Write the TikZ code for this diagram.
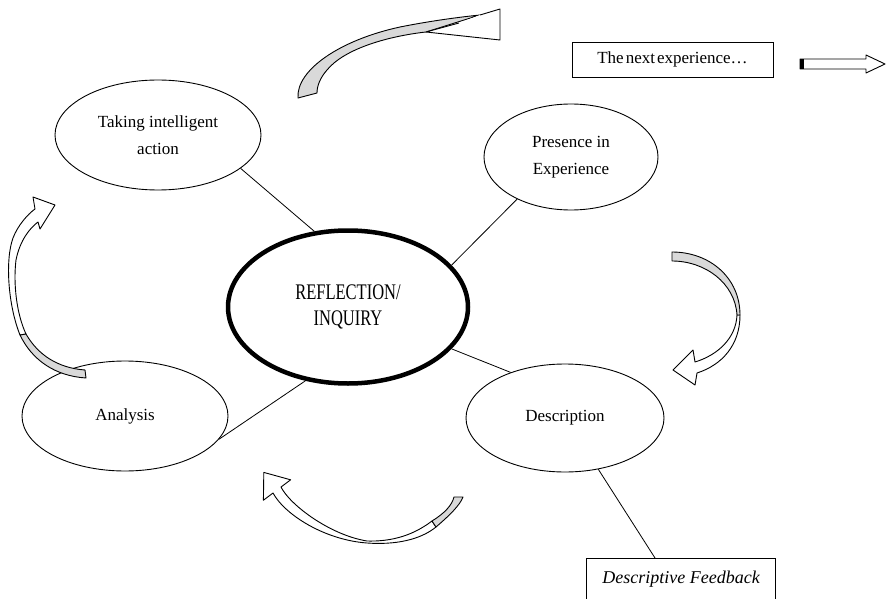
\documentclass[tikz,border=0pt]{standalone}
\usepackage{fontspec}
\setmainfont{Liberation Serif}
\usetikzlibrary{shapes.geometric,calc}
\definecolor{arrgray}{gray}{0.85}
\begin{document}
\begin{tikzpicture}[x=1pt,y=-1pt,
  ell/.style={draw, ellipse, line width=0.9pt, inner sep=0pt, align=center, font=\fontsize{17}{27}\selectfont},
  conn/.style={line width=0.8pt},
  blk/.style={draw, line width=0.9pt, line join=round},
  txtbox/.style={draw, rectangle, line width=0.9pt}]
\useasboundingbox (0,0) rectangle (886,599);
\clip (0,0) rectangle (886,599);

% ellipses
\node[ell, minimum width=206pt, minimum height=110pt] (take) at (158,135) {Taking intelligent\\action};
\node[ell, minimum width=174pt, minimum height=106pt] (pres) at (571,157) {Presence in\\Experience};
\node[ell, minimum width=206pt, minimum height=110pt] (anal) at (125,416) {Analysis};
\node[ell, minimum width=198pt, minimum height=108pt] (desc) at (565,418) {Description};
\node[draw, ellipse, line width=4.5pt, minimum width=240pt, minimum height=153pt, inner sep=0pt, align=center,
      font=\fontsize{16.5}{26}\selectfont] (refl) at (348,307)
  {\scalebox{1}[1.35]{REFLECTION/}\\\scalebox{1}[1.35]{INQUIRY}};

% text boxes
\node[txtbox, minimum width=201pt, minimum height=35pt, font=\fontsize{17}{20}\selectfont] (next) at (672.5,59.5)
  {The\hspace{0.12em}next\hspace{0.12em}experience…};
\node[txtbox, anchor=north west, inner xsep=16pt, inner ysep=13pt, text depth=40pt, font=\fontsize{18}{22}\selectfont\itshape] (fb) at (586,558)
  {Descriptive Feedback};
\path (fb.north west) ++(69,0) coordinate (fbtop);

% connectors
\draw[conn] (take.-22) -- (refl.114);
\draw[conn] (pres.218) -- (refl.22);
\draw[conn] (refl.-22) -- (desc.140);
\draw[conn] (anal.-14) -- (refl.240);
\draw[conn] (desc.-57) -- (fbtop);

% hollow straight arrow
\draw[blk, fill=white] (800,59) -- (866,59) -- (866,55) -- (885,64) -- (866,73) -- (866,69) -- (800,69) -- cycle;
\fill (800,59) rectangle (804,69);

% top curved arrow (action -> next experience)
\draw[blk, fill=arrgray] (298,98) .. controls (296,70) and (340,40) .. (400,27)
   .. controls (430,21) and (460,17) .. (480,15)
   -- (426,32) .. controls (390,36) and (345,48) .. (327,70)
   .. controls (320,78) and (317,86) .. (317,93) -- cycle;
\draw[blk, fill=white] (480,15) -- (500,9) -- (500,40) -- (426,32) -- (459,23);

% right curved arrow (presence -> description)
\draw[blk, fill=white] (740,315) .. controls (740,345) and (722,365) .. (697,373)
   -- (695,385) -- (673,370) -- (693,350) -- (695,362)
   .. controls (718,355) and (736,338) .. (737,315) -- cycle;
\draw[blk, fill=arrgray] (672,252) .. controls (710,252) and (740,278) .. (740,315)
   -- (737,315) .. controls (735,283) and (705,261) .. (672,261) -- cycle;

% bottom curved arrow (description -> analysis)
\draw[blk, fill=white] (273,493) -- (263.4,500.2) -- (263.8,472.4) -- (290.6,479.8) -- (281,487)
   .. controls (290,505) and (330,535) .. (367,541)
   .. controls (400,542) and (420,530) .. (432,521)
   -- (436,527) .. controls (420,540) and (395,545) .. (367,543)
   .. controls (325,540) and (285,515) .. (273,493) -- cycle;
\draw[blk, fill=arrgray] (436,527) .. controls (450,515) and (460,505) .. (463,497)
   -- (454,497) .. controls (452,505) and (445,513) .. (432,521) -- cycle;

% left curved arrow (analysis -> action)
\draw[blk, fill=white] (20,335) .. controls (8,305) and (5,260) .. (13,238)
   .. controls (18,225) and (28,214) .. (35,209)
   -- (33,197) -- (55,205) -- (40,229) -- (38,222)
   .. controls (30,228) and (20,240) .. (16,260)
   .. controls (13,285) and (17,315) .. (26,334) -- cycle;
\draw[blk, fill=arrgray] (20,335) .. controls (32,360) and (55,376) .. (86,378)
   -- (85,370) .. controls (58,368) and (38,355) .. (26,334) -- cycle;
\end{tikzpicture}
\end{document}
